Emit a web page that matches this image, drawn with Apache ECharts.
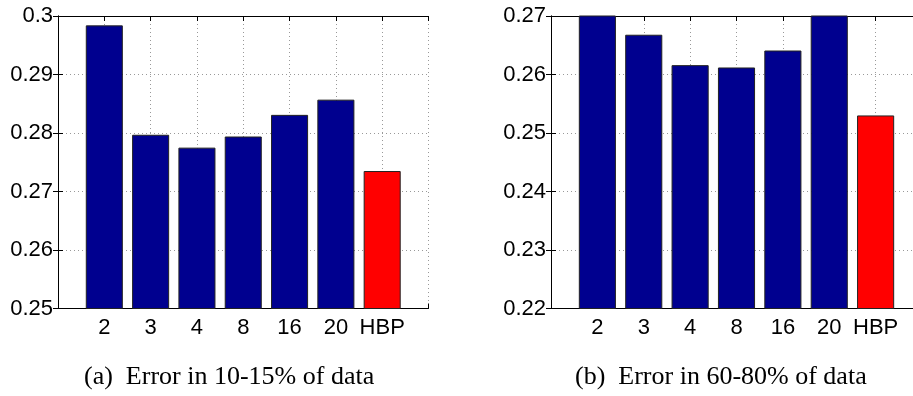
<!DOCTYPE html>
<html>
<head>
<meta charset="utf-8">
<script src="https://cdn.jsdelivr.net/npm/echarts@6/dist/echarts.min.js"></script>
<style>html,body{margin:0;padding:0;background:#fff;overflow:hidden;width:913px;height:396px;}#c{width:932px;height:396px;}</style>
</head>
<body>
<div id="c"></div>
<script>
const categories = ['2', '3', '4', '8', '16', '20', 'HBP'];
const valuesA = [0.2984, 0.2797, 0.2775, 0.2794, 0.2831, 0.2857, 0.2735];
const valuesB = [0.2760, 0.2668, 0.2616, 0.2612, 0.2641, 0.2730, 0.2530];
const yTicksA = { min: 0.25, max: 0.30, step: 0.01 };
const yTicksB = { min: 0.22, max: 0.27, step: 0.01 };
const captions = ['(a)  Error in 10-15% of data', '(b)  Error in 60-80% of data'];

const BLUE = '#00008f', RED = '#ff0000';
const labelFont = { fontFamily: 'Liberation Sans', fontSize: 22, color: '#000' };

function pairs(vals) {
  return vals.map((v, i) => ({
    value: [i + 1, v],
    itemStyle: { color: categories[i] === 'HBP' ? RED : BLUE }
  }));
}

const grids = [
  { left: 58, top: 16, width: 370.5, height: 292.5 },
  { left: 551, top: 16, width: 371, height: 292.5 }
];
const ranges = [yTicksA, yTicksB];

const xAxes = [], yAxes = [], series = [];
grids.forEach((g, gi) => {
  xAxes.push({
    type: 'value', gridIndex: gi, min: 0, max: categories.length + 1, interval: 1,
    position: 'bottom',
    axisLine: { show: true, lineStyle: { color: '#000', width: 1 } },
    axisTick: { show: true, inside: true, length: 5, lineStyle: { color: '#000' } },
    axisLabel: Object.assign({
      margin: 8,
      formatter: v => (v >= 1 && v <= categories.length) ? categories[v - 1] : ''
    }, labelFont),
    splitLine: { show: true, lineStyle: { color: '#999', type: [1, 3], width: 1 } }
  });
  xAxes.push({
    type: 'value', gridIndex: gi, min: 0, max: categories.length + 1, interval: 1,
    position: 'top',
    axisLine: { show: true, lineStyle: { color: '#000', width: 1 } },
    axisTick: { show: true, inside: true, length: 5, lineStyle: { color: '#000' } },
    axisLabel: { show: false }, splitLine: { show: false }
  });
  const r = ranges[gi];
  yAxes.push({
    type: 'value', gridIndex: gi, min: r.min, max: r.max, interval: r.step,
    position: 'left',
    axisLine: { show: true, lineStyle: { color: '#000', width: 1 } },
    axisTick: { show: true, inside: true, length: 5, lineStyle: { color: '#000' } },
    axisLabel: Object.assign({ margin: 5, formatter: v => String(+v.toFixed(2)) }, labelFont),
    splitLine: { show: true, lineStyle: { color: '#999', type: [1, 3], width: 1 } }
  });
  yAxes.push({
    type: 'value', gridIndex: gi, min: r.min, max: r.max, interval: r.step,
    position: 'right',
    axisLine: { show: true, lineStyle: { color: '#000', width: 1 } },
    axisTick: { show: true, inside: true, length: 5, lineStyle: { color: '#000' } },
    axisLabel: { show: false }, splitLine: { show: false }
  });
  series.push({
    type: 'bar', xAxisIndex: gi * 2, yAxisIndex: gi * 2,
    data: pairs(gi === 0 ? valuesA : valuesB),
    barWidth: '80%', clip: true,
    itemStyle: { borderColor: '#222', borderWidth: 1 },
    silent: true, animation: false
  });
});

const chart = echarts.init(document.getElementById('c'), null, { renderer: 'canvas' });
chart.setOption({
  animation: false,
  grid: grids,
  xAxis: xAxes,
  yAxis: yAxes,
  series: series,
  graphic: [
    { type: 'text', left: 84, top: 364, style: { text: captions[0], font: '26px "Liberation Serif"', fill: '#000' } },
    { type: 'text', left: 575, top: 364, style: { text: captions[1], font: '26px "Liberation Serif"', fill: '#000' } }
  ]
});
</script>
</body>
</html>
